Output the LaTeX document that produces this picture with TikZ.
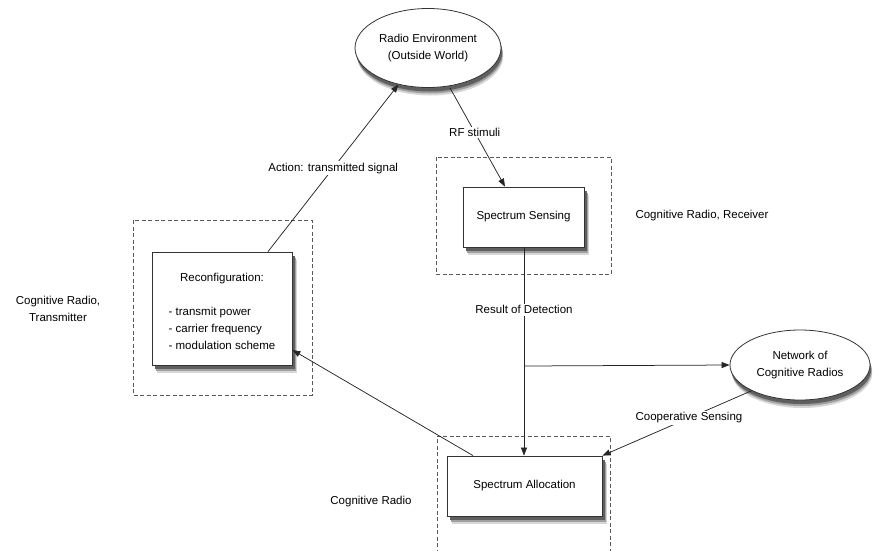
\documentclass[tikz,border=0pt]{standalone}
\usepackage{fontspec}
\setmainfont{Liberation Sans}
\usetikzlibrary{shapes.geometric,arrows.meta}
\definecolor{shdA}{RGB}{215,215,215}
\definecolor{shdB}{RGB}{160,160,160}
\definecolor{shdC}{RGB}{95,95,95}
\begin{document}
\begin{tikzpicture}[x=1pt,y=-1pt,
  font=\fontsize{11.5}{17.5}\selectfont,
  blk/.style={draw=black!80, fill=white, line width=0.8pt, align=center, inner sep=0pt},
  ell/.style={ellipse, draw=black!80, fill=white, line width=0.8pt, align=center, inner sep=0pt},
  grp/.style={draw=black!65, line width=0.7pt, dash pattern=on 4pt off 2.5pt},
  conn/.style={draw=black!85, line width=0.75pt, -{Triangle[length=8pt,width=6pt]}},
  lbl/.style={fill=white, inner sep=1.5pt},
  txt/.style={align=center, inner sep=0pt}
]
\useasboundingbox (0,0) rectangle (875,550);

% dashed groups
\draw[grp] (436,157) rectangle (611,274);
\draw[grp] (133,220) rectangle (312,395);
\draw[grp] (437,560) -- (437,436) -- (610,436) -- (610,560);

% shadows (drawn before the nodes)
\foreach \dx/\dy/\col in {4.5/8/shdA, 3.5/6/shdB, 2.5/4/shdC}{
  \fill[\col] (463+\dx,187+\dy) rectangle (584+\dx,247+\dy);
  \fill[\col] (152+\dx,252+\dy) rectangle (292+\dx,365+\dy);
  \fill[\col] (447+\dx,456+\dy) rectangle (602+\dx,516+\dy);
  \fill[\col] (428+0.5*\dx,48+\dy) ellipse (73 and 39.5);
  \fill[\col] (800+0.5*\dx,365+\dy) ellipse (70 and 35);
}

% nodes
\node[ell, minimum width=146pt, minimum height=79pt] (env) at (428,48) {Radio Environment\\(Outside World)};
\node[blk, minimum width=121pt, minimum height=60pt] (sense) at (523.5,217) {Spectrum Sensing};
\node[blk, minimum width=140pt, minimum height=113pt] (reconf) at (222,308.5)
  {\raisebox{0pt}[\dimexpr\height+8pt\relax][\depth]{\fontsize{11.5}{17}\selectfont\begin{tabular}{@{}l@{}}\multicolumn{1}{@{}c@{}}{Reconfiguration:}\\[17pt]- transmit power\\- carrier frequency\\- modulation scheme\end{tabular}}};
\node[blk, minimum width=155pt, minimum height=60pt] (alloc) at (524.5,486) {Spectrum Allocation};
\node[ell, minimum width=140pt, minimum height=70pt] (net) at (800,365) {Network of\\Cognitive Radios};

% side texts
\node[txt] (trx) at (58,309) {Cognitive Radio,\\Transmitter};
\node[txt] (rcv) at (702,216) {Cognitive Radio, Receiver};
\node[txt] (cr) at (371,502) {Cognitive Radio};

% connectors
\coordinate (split) at (524,366);
\draw[conn] ([xshift=46pt]reconf.north) -- node[lbl, pos=0.5] {Action: transmitted signal} (env.231);
\draw[conn] ([xshift=22pt]env.south) -- node[lbl, pos=0.45] {RF stimuli} ([xshift=-18.5pt]sense.north);
\draw[conn] (sense.south -| split) -- node[lbl, pos=0.3] {Result of Detection} (alloc.north -| split);
\draw[conn] (split) -- (net.west);
\draw[conn] (net.208) -- node[lbl, pos=0.42] {Cooperative Sensing} (alloc.north east);
\draw[conn] ([xshift=-51.5pt]alloc.north) -- (reconf.east |- 0,350);
\end{tikzpicture}
\end{document}
